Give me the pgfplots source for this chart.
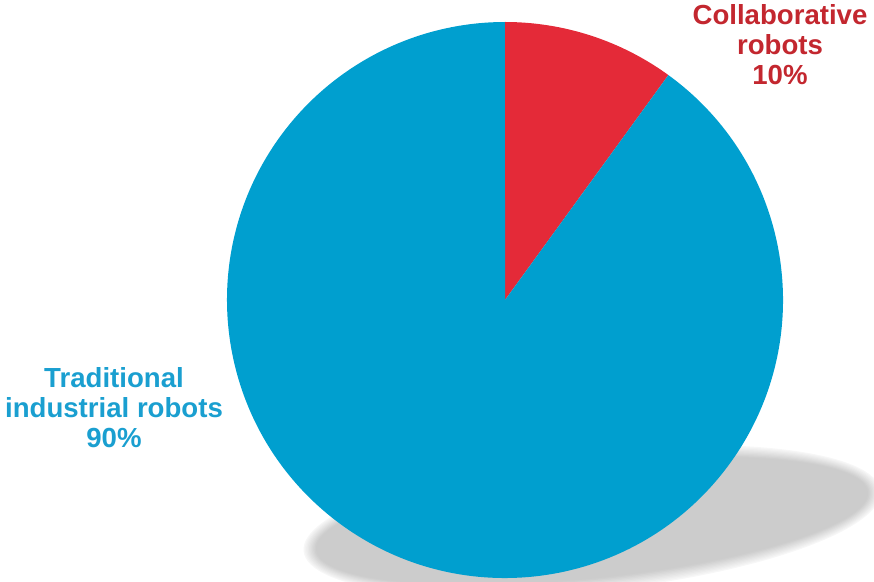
\documentclass[border=0pt]{standalone}
\usepackage{pgfplots}
\pgfplotsset{compat=1.18}
\usepackage{pgfplotstable}
\usepackage{fontspec}
\setmainfont{Liberation Sans}
\definecolor{pieblue}{HTML}{009FCF}
\definecolor{piered}{HTML}{E42A38}
\definecolor{labred}{HTML}{C3272F}
\definecolor{labblue}{HTML}{1A9FD0}

\pgfplotstableread{
label value
Collaborative 10
Traditional 90
}\piedata

\begin{document}
\begin{tikzpicture}
\pgfplotstablegetelem{0}{value}\of\piedata \pgfmathsetmacro{\vA}{\pgfplotsretval}
\pgfplotstablegetelem{1}{value}\of\piedata \pgfmathsetmacro{\vB}{\pgfplotsretval}
\pgfmathsetmacro{\tot}{\vA+\vB}
\pgfmathsetmacro{\aA}{90-360*(\vA/\tot)}
\pgfmathsetmacro{\aB}{\aA-360*(\vB/\tot)}
% soft shadow (decoration)
\foreach \c [count=\i from 0] in {3,5,7,9,11,13,15,17,19,20} {
  \fill[black!\c, rotate around={6:(592pt,60pt)}] (592pt,60pt) ellipse [x radius={(290-1.4*\i)*1pt}, y radius={(70-1.4*\i)*1pt}];
}
\begin{axis}[scale only axis, width=874pt, height=581pt,
  xmin=0, xmax=874, ymin=0, ymax=581, hide axis, clip=false]
\addplot[draw=none] coordinates {(0,0) (874,581)};
\fill[piered] (axis cs:505,281) -- ++(90:278pt) arc[start angle=90, end angle=\aA, radius=278pt] -- cycle;
\fill[pieblue] (axis cs:505,281) -- ++(\aA:278pt) arc[start angle=\aA, end angle=\aB, radius=278pt] -- cycle;
\node[labred, align=center, inner sep=0pt, font=\bfseries\fontsize{27.6}{30}\selectfont] at (axis cs:780,536) {Collaborative\\robots\\10\%};
\node[labblue, align=center, inner sep=0pt, font=\bfseries\fontsize{27.6}{30}\selectfont] at (axis cs:114,173) {Traditional\\industrial robots\\90\%};
\end{axis}
\pgfresetboundingbox
\useasboundingbox (0pt,0pt) rectangle (874pt,581pt);
\end{tikzpicture}
\end{document}
